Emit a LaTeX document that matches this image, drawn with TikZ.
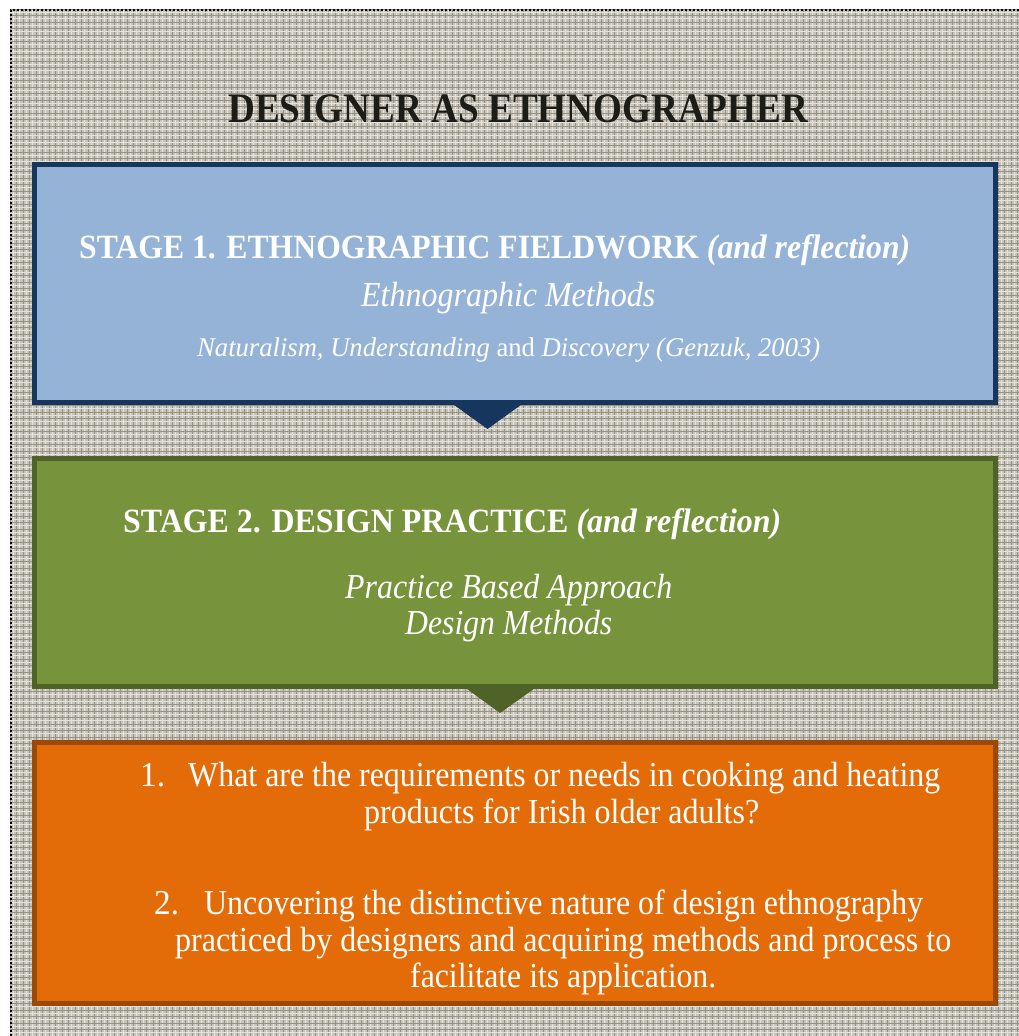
\documentclass[tikz,border=0pt]{standalone}
\usepackage{fontspec}
\setmainfont{Liberation Serif}
\usetikzlibrary{calc}
\newcommand\fitx[2]{\resizebox{#1pt}{\height}{#2}}
\definecolor{bgbase}{RGB}{198,196,186}
\definecolor{bgdark}{RGB}{150,147,132}
\definecolor{bglight}{RGB}{228,226,218}
\definecolor{bluefill}{HTML}{95B3D7}
\definecolor{blueline}{HTML}{17365D}
\definecolor{greenfill}{HTML}{77933C}
\definecolor{greenline}{HTML}{4F6228}
\definecolor{orangefill}{HTML}{E36C09}
\definecolor{orangeline}{HTML}{9A4A06}
\definecolor{titletext}{HTML}{1D1D17}
\begin{document}
\begin{tikzpicture}[x=1pt,y=-1pt,
  box/.style={draw, line width=5pt, inner sep=0pt, minimum width=961pt},
  txt/.style={anchor=base west, inner sep=0pt, text=white},
  headfont/.style={font=\fontsize{34}{40}\selectfont\bfseries},
  bodyfont/.style={font=\fontsize{35}{41}\selectfont},
  smallfont/.style={font=\fontsize{27}{32}\selectfont}]
\useasboundingbox (0,0) rectangle (1019,1036);
% textured background
\begin{scope}
\clip (10,9) rectangle (1019,1036);
\fill[bgbase] (10,9) rectangle (1019,1036);
\foreach \i in {0,...,156} {
  \draw[bgdark, line width=0.9pt] ({10+6.5*\i},9) -- ++(0,1027);
  \draw[bglight, line width=0.9pt] ({13.25+6.5*\i},9) -- ++(0,1027);
}
\foreach \j in {0,...,158} {
  \draw[bgdark, line width=0.9pt] (10,{9+6.5*\j}) -- ++(1009,0);
  \draw[bglight, line width=0.9pt] (10,{12.25+6.5*\j}) -- ++(1009,0);
}
\end{scope}
\draw[line width=2pt, dash pattern=on 2pt off 2pt] (1019,10) -- (11,10) -- (11,1036);

% title
\node[txt, text=titletext, font=\fontsize{42}{50}\selectfont\bfseries] (title) at (228,122)
  {\fitx{580}{DESIGNER AS ETHNOGRAPHER}};

% boxes
\node[box, fill=bluefill, draw=blueline, minimum height=238pt] (b1) at (515,283.5) {};
\node[box, fill=greenfill, draw=greenline, minimum height=228pt] (b2) at (515,572.5) {};
\node[box, fill=orangefill, draw=orangeline, minimum height=261pt] (b3) at (515,873) {};

% pointers
\fill[blueline] ($(b1.south)+(-65,-3)$) -- ($(b1.south)+(-27.5,24)$) -- ($(b1.south)+(10,-3)$) -- cycle;
\fill[greenline] ($(b2.south)+(-52,-3)$) -- ($(b2.south)+(-15,24)$) -- ($(b2.south)+(23,-3)$) -- cycle;

% stage 1
\node[txt, headfont] (s1h) at (79,258)
  {\fitx{831}{STAGE 1. ETHNOGRAPHIC FIELDWORK \textit{(and reflection)}}};
\node[txt, bodyfont] (s1a) at (361,306) {\fitx{294}{\textit{Ethnographic Methods}}};
\node[txt, smallfont] (s1b) at (197,356)
  {\fitx{623}{\textit{Naturalism, Understanding} and \textit{Discovery (Genzuk, 2003)}}};

% stage 2
\node[txt, headfont] (s2h) at (123,532)
  {\fitx{658}{STAGE 2. DESIGN PRACTICE \textit{(and reflection)}}};
\node[txt, bodyfont] (s2a) at (345,598) {\fitx{327}{\textit{Practice Based Approach}}};
\node[txt, bodyfont] (s2b) at (405,634) {\fitx{207}{\textit{Design Methods}}};

% questions
\node[txt, bodyfont] (q1n) at (140,786) {\fitx{25}{1.}};
\node[txt, bodyfont] (q1a) at (188,786)
  {\fitx{752}{What are the requirements or needs in cooking and heating}};
\node[txt, bodyfont] (q1b) at (364,823) {\fitx{395}{products for Irish older adults?}};
\node[txt, bodyfont] (q2n) at (154,914) {\fitx{25}{2.}};
\node[txt, bodyfont] (q2a) at (204,914)
  {\fitx{719}{Uncovering the distinctive nature of design ethnography}};
\node[txt, bodyfont] (q2b) at (175,951)
  {\fitx{776}{practiced by designers and acquiring methods and process to}};
\node[txt, bodyfont] (q2c) at (410,987) {\fitx{306}{facilitate its application.}};
\end{tikzpicture}
\end{document}
